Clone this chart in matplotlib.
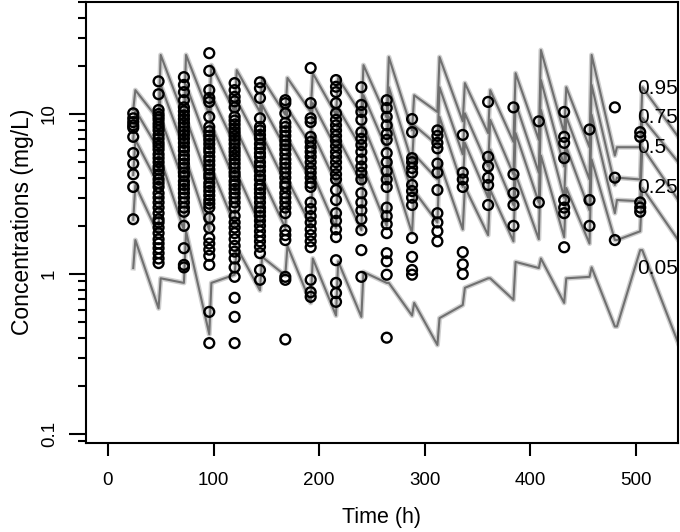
import matplotlib
matplotlib.use("Agg")
import matplotlib.pyplot as plt
from matplotlib.ticker import LogLocator, NullFormatter, FixedLocator, FixedFormatter

plt.rcParams['font.family'] = ['Liberation Sans', 'DejaVu Sans']

# nominal sampling / dosing times (h)
dose_times = [24, 48, 72, 96, 120, 144, 168, 192, 216, 240, 264, 288,
              312, 336, 360, 384, 408, 432, 456, 480, 504]
end_time = 540

# observed concentrations (mg/L) per nominal time
obs = {
    24: [10.1, 9.4, 8.9, 8.5, 8.2, 7.2, 5.7, 4.9, 4.2, 3.5, 2.2],
    48: [16.0, 13.3, 10.6, 10.0, 9.6, 9.2, 8.7, 8.3, 7.9, 7.4, 7.0, 6.6, 6.3, 6.0, 5.6, 5.3,
         5.0, 4.7, 4.5, 4.2, 3.9, 3.7, 3.5, 3.2, 3.0, 2.8, 2.6, 2.4, 2.2, 2.1, 1.95, 1.8,
         1.65, 1.55, 1.45, 1.35, 1.25, 1.17],
    72: [17.0, 15.2, 13.7, 12.2, 11.0, 10.4, 9.8, 9.3, 8.8, 8.3, 7.8, 7.4, 7.0, 6.6, 6.2, 5.9,
         5.5, 5.2, 4.9, 4.6, 4.3, 4.1, 3.8, 3.6, 3.4, 3.2, 3.0, 2.8, 2.6, 2.45, 2.0, 1.45,
         1.14, 1.1],
    96: [24.0, 18.6, 14.1, 12.6, 11.9, 9.6, 8.3, 7.8, 7.3, 6.9, 6.5, 6.1, 5.8, 5.4, 5.1, 4.8,
         4.5, 4.2, 4.0, 3.7, 3.5, 3.3, 3.1, 2.9, 2.75, 2.6, 2.24, 1.94, 1.68, 1.55, 1.42, 1.3,
         1.14, 0.58, 0.37],
    120: [15.6, 14.1, 12.8, 12.0, 11.0, 9.6, 9.1, 8.6, 8.1, 7.7, 7.3, 6.9, 6.5, 6.1, 5.8, 5.5,
          5.2, 4.9, 4.6, 4.3, 4.1, 3.8, 3.6, 3.4, 3.2, 3.0, 2.8, 2.6, 2.3, 2.1, 1.95, 1.8,
          1.65, 1.5, 1.38, 1.25, 1.1, 0.96, 0.71, 0.54, 0.37],
    144: [15.8, 14.5, 12.6, 9.4, 8.3, 7.9, 7.4, 7.0, 6.5, 6.1, 5.7, 5.4, 5.0, 4.7, 4.4, 4.1,
          3.9, 3.6, 3.4, 3.2, 3.0, 2.8, 2.6, 2.45, 2.3, 2.15, 2.0, 1.85, 1.72, 1.6, 1.48, 1.35,
          1.06, 0.92],
    168: [12.2, 11.7, 10.1, 8.8, 8.3, 7.8, 7.3, 6.8, 6.4, 6.0, 5.6, 5.2, 4.9, 4.6, 4.3, 4.0,
          3.7, 3.5, 3.2, 3.0, 2.8, 2.6, 2.4, 1.88, 1.75, 1.63, 0.96, 0.92, 0.39],
    192: [19.4, 11.7, 9.4, 8.9, 7.2, 6.7, 6.2, 5.8, 5.4, 5.0, 4.6, 4.3, 4.0, 3.7, 3.5, 2.8,
          2.55, 2.3, 2.1, 1.9, 1.75, 1.6, 1.47, 0.92, 0.77, 0.72],
    216: [16.3, 14.8, 13.7, 11.7, 10.1, 9.2, 8.5, 7.9, 7.3, 6.8, 6.3, 5.8, 5.4, 5.0, 4.6, 4.2,
          3.9, 3.35, 2.9, 2.4, 2.15, 1.9, 1.7, 1.22, 0.88, 0.76, 0.67],
    240: [14.7, 11.4, 10.3, 9.2, 7.7, 7.0, 6.4, 5.8, 5.2, 4.7, 4.3, 3.9, 3.2, 2.8, 2.5, 2.2,
          1.88, 1.41, 0.96],
    264: [12.2, 10.9, 9.6, 8.5, 7.5, 6.9, 5.7, 5.0, 4.4, 3.9, 3.5, 2.6, 2.3, 2.05, 1.8, 1.35,
          1.2, 0.99, 0.40],
    288: [9.3, 7.7, 5.3, 5.0, 4.6, 4.3, 3.6, 3.3, 3.0, 2.7, 1.68, 1.28, 1.06, 0.99],
    312: [7.9, 7.3, 6.6, 6.1, 4.9, 4.3, 3.35, 2.4, 2.1, 1.85, 1.6],
    336: [7.4, 4.3, 3.9, 3.5, 1.37, 1.15, 1.0],
    360: [11.9, 5.4, 4.7, 4.0, 3.6, 2.7],
    384: [11.0, 4.2, 3.2, 2.7, 2.0],
    408: [9.0, 2.8],
    432: [10.3, 7.2, 6.6, 5.3, 2.9, 2.6, 2.4, 1.47],
    456: [8.0, 2.9, 2.0],
    480: [11.0, 4.0, 1.63],
    504: [7.7, 7.2, 2.8, 2.6, 2.45],
}

# simulated percentiles: trough (just before dose) and peak (just after dose)
p95_trough = [10.6, 9.2, 9.6, 9.9, 10.3, 10.3, 9.9, 10.3, 9.9, 9.9, 9.5, 7.9, 10.3, 9.0,
              7.6, 6.7, 6.9, 7.6, 6.2, 5.5, 6.2]
p95_peak = [14.1, 23.4, 23.4, 20.2, 18.8, 16.8, 16.8, 18.0, 16.8, 20.2, 22.7, 13.1, 22.7, 15.6,
            14.1, 18.0, 25.1, 14.7, 23.4, 6.2, 14.7]
p95_end = 7.2

p75_trough = [6.9, 6.0, 6.1, 6.1, 6.4, 6.4, 6.1, 6.4, 6.1, 6.1, 6.0, 5.0, 6.4, 5.6,
              4.7, 4.2, 4.3, 4.7, 3.9, 3.6, 3.9]
p75_peak = [10.6, 15.2, 15.2, 13.1, 12.2, 11.4, 10.9, 11.7, 10.9, 13.1, 14.7, 8.5, 14.7, 10.1,
            9.2, 11.7, 16.3, 9.6, 15.2, 4.0, 9.45]
p75_end = 5.0

p50_trough = [4.16, 3.60, 3.70, 3.70, 3.87, 3.87, 3.70, 3.87, 3.70, 3.70, 3.7, 3.2, 3.9, 3.5,
              3.0, 2.7, 2.8, 3.0, 2.5, 2.4, 2.85]
p50_peak = [6.9, 9.4, 9.4, 8.5, 7.9, 7.4, 7.1, 7.6, 7.1, 8.5, 9.6, 5.6, 9.6, 6.6,
            6.0, 7.6, 10.6, 6.2, 9.9, 2.9, 6.2]
p50_end = 2.9

p25_trough = [2.18, 1.75, 1.88, 1.88, 2.02, 2.02, 1.94, 2.02, 1.94, 1.88, 2.0, 1.8, 2.1, 1.9,
              1.75, 1.6, 1.65, 1.7, 1.55, 1.63, 1.85]
p25_peak = [3.6, 5.2, 5.2, 4.6, 4.3, 4.0, 3.9, 4.2, 3.9, 4.6, 5.2, 3.3, 5.0, 3.5,
            3.35, 4.2, 5.5, 3.45, 5.2, 1.63, 3.45]
p25_end = 1.63

p05_trough = [1.09, 0.61, 0.88, 0.42, 0.99, 0.79, 0.98, 0.66, 0.55, 0.54, 0.88, 0.55, 0.36,
              0.64, 0.94, 0.69, 1.09, 0.66, 0.96, 0.47, 1.41]
p05_peak = [1.63, 0.94, 1.85, 0.88, 1.47, 1.28, 1.5, 1.25, 1.2, 1.03, 0.88, 0.66, 0.53,
            0.82, 0.94, 1.19, 1.25, 0.94, 1.1, 0.47, 1.41]
p05_end = 0.37

pct_labels = ["0.95", "0.75", "0.5", "0.25", "0.05"]
pct_label_y = [14.5, 9.45, 6.2, 3.45, 1.09]

peak_lag = 2

fig = plt.figure(figsize=(6.8, 5.32), dpi=100)
ax = fig.add_axes([85.7 / 680, 1 - 443.3 / 532, 592 / 680, 441.3 / 532])
ax.set_yscale('log')
ax.set_xlim(-21, 539.5)
ax.set_ylim(10 ** -1.058, 10 ** 1.7)

lines = [(p95_trough, p95_peak, p95_end), (p75_trough, p75_peak, p75_end),
         (p50_trough, p50_peak, p50_end), (p25_trough, p25_peak, p25_end),
         (p05_trough, p05_peak, p05_end)]
for trough, peak, end in lines:
    xs, ys = [], []
    for t, lo, hi in zip(dose_times, trough, peak):
        xs += [t, t + peak_lag]
        ys += [lo, hi]
    xs.append(end_time)
    ys.append(end)
    ax.plot(xs, ys, color='#cfcfcf', lw=3.6, zorder=1)
    ax.plot(xs, ys, color='#707070', lw=1.5, zorder=2)

for t, vals in obs.items():
    ax.scatter([t] * len(vals), vals, s=50, facecolors='none', edgecolors='black',
               linewidths=1.7, zorder=3)

for lab, yv in zip(pct_labels, pct_label_y):
    ax.text(501, yv, lab, fontsize=15, ha='left', va='center', color='black',
            zorder=4, clip_on=True)

for s in ax.spines.values():
    s.set_linewidth(1.5)

ax.xaxis.set_major_locator(FixedLocator([0, 100, 200, 300, 400, 500]))
ax.tick_params(axis='x', length=9, width=1.5, pad=12, labelsize=13.5)
ax.yaxis.set_major_locator(FixedLocator([0.1, 1, 10]))
ax.yaxis.set_major_formatter(FixedFormatter(["0.1", "1", "10"]))
ax.yaxis.set_minor_locator(LogLocator(base=10, subs=[2, 3, 4, 5, 6, 7, 8, 9]))
ax.yaxis.set_minor_formatter(NullFormatter())
ax.tick_params(axis='y', which='major', length=12, width=1.5, pad=8, labelsize=13.5)
ax.tick_params(axis='y', which='minor', length=6, width=1.5)
for lab in ax.get_yticklabels():
    lab.set_rotation(90)
    lab.set_va('center')

fig.text(22 / 680, 1 - 222 / 532, "Concentrations (mg/L)", rotation=90,
         ha='center', va='center', fontsize=16.5)
fig.text(381.7 / 680, 1 - 517 / 532, "Time (h)", ha='center', va='center', fontsize=15.5)

fig.savefig("out.png", dpi=100)
